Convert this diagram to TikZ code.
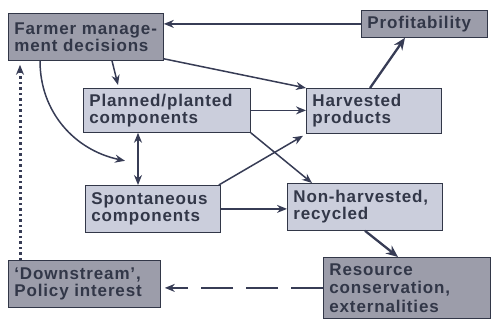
\documentclass[tikz,border=0pt]{standalone}
\usepackage{fontspec}
\newfontfamily\boxfont{Liberation Sans}[LetterSpace=5]
\usetikzlibrary{arrows.meta,calc}

\definecolor{lightbox}{RGB}{203,206,220}
\definecolor{darkbox}{RGB}{156,157,170}
\definecolor{inktext}{RGB}{50,55,72}
\definecolor{inkline}{RGB}{55,60,85}

\tikzset{
  box/.style={draw=inktext, line width=0.8pt, fill=lightbox, anchor=north west,
    inner xsep=6pt, inner ysep=2pt, align=left, text=inktext,
    font={\boxfont\bfseries\fontsize{17}{17}\selectfont}},
  dbox/.style={box, fill=darkbox},
  link/.style={draw=inkline, line width=1.5pt, -{Stealth[length=10pt,width=8pt]}},
  biglink/.style={link, line width=2.3pt, -{Stealth[length=12pt,width=10pt]}}
}

\begin{document}
\begin{tikzpicture}[x=1pt, y=-1pt]
\useasboundingbox (0,0) rectangle (494,321);

% boxes
\node[dbox, minimum width=155pt, minimum height=47pt, text width=143pt] (farmer) at (8,13) {Farmer manage-\\ment decisions};
\node[dbox, minimum width=126pt, minimum height=27pt, text width=114pt] (profit) at (361,10) {Profitability};
\node[box, minimum width=167pt, minimum height=44pt, text width=155pt] (planned) at (83,88) {Planned/planted\\components};
\node[box, minimum width=135pt, minimum height=45pt, text width=123pt] (harvest) at (306,88) {Harvested\\products};
\node[box, minimum width=135pt, minimum height=47pt, text width=123pt] (spont) at (85,185) {Spontaneous\\components};
\node[box, minimum width=155pt, minimum height=47pt, text width=143pt] (nonharv) at (287,183) {Non-harvested,\\recycled};
\node[dbox, minimum width=152pt, minimum height=47pt, text width=140pt] (downstream) at (8,260) {‘Downstream’,\\Policy interest};
\node[dbox, minimum width=167pt, minimum height=61pt, text width=155pt, font={\boxfont\bfseries\fontsize{17}{18.5}\selectfont}] (resource) at (323,257) {Resource\\conservation,\\externalities};

% connectors
\draw[link] (profit.west) -- (profit.west -| farmer.east);
\draw[link] ($(farmer.south west)+(104,0)$) -- ($(planned.north west)+(35,-3)$);
\draw[link] ($(farmer.south east)+(0,-2)$) -- (harvest.north west);
\draw[link] ($(farmer.south west)+(32,0)$) to[out=-90, in=168] ($(planned.south west)+(42,28)$);
\draw[link, {Stealth[length=10pt,width=8pt]}-{Stealth[length=10pt,width=8pt]}] ($(planned.south west)+(55,0)$) -- ($(spont.north west)+(53,0)$);
\draw[link] (planned.east) -- (planned.east -| harvest.west);
\draw[link] (planned.south east) -- ($(nonharv.north west)+(25,0)$);
\draw[link] ($(spont.north east)+(-2,0)$) -- ($(harvest.south west)+(-3,2)$);
\draw[link] (spont.east) -- (spont.east -| nonharv.west);
\draw[biglink] ($(harvest.north west)+(64,0)$) -- ($(profit.south west)+(44,0)$);
\draw[biglink] ($(nonharv.south west)+(78,0)$) -- ($(resource.north west)+(75,0)$);
\draw[link, dash pattern=on 32pt off 13pt] (resource.west) -- ($(downstream.east)+(4,4)$);
\draw[link, line width=3pt, dash pattern=on 2.5pt off 3pt] ($(downstream.north west)+(12,0)$) -- ($(farmer.south west)+(12,4)$);
\end{tikzpicture}
\end{document}
